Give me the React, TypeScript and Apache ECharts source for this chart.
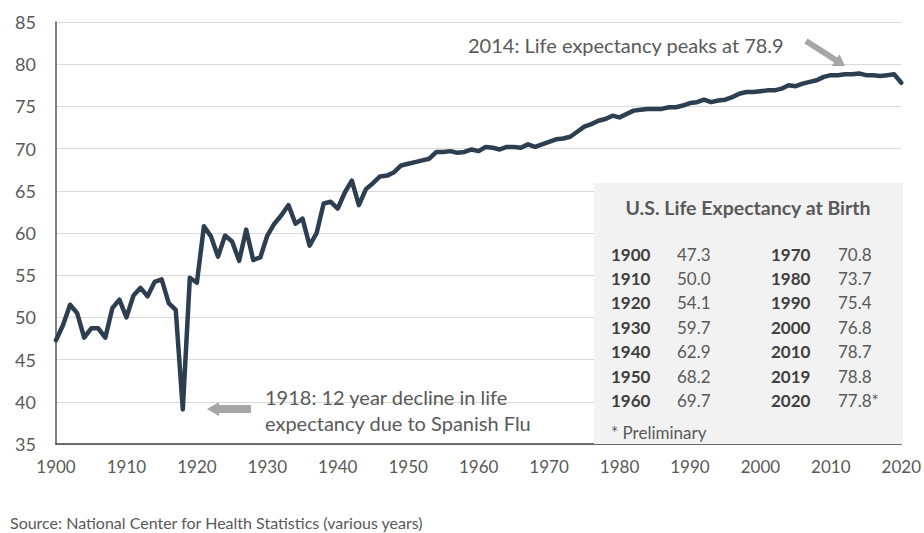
import React, { useEffect, useRef } from "react";
import * as echarts from "echarts";

const years: number[] = [];
for (let y = 1900; y <= 2020; y++) years.push(y);

const lifeExpectancy: number[] = [
  47.3, 49.1, 51.5, 50.5, 47.6, 48.7, 48.7, 47.6, 51.1, 52.1,
  50.0, 52.6, 53.5, 52.5, 54.2, 54.5, 51.7, 50.9, 39.1, 54.7,
  54.1, 60.8, 59.6, 57.2, 59.7, 59.0, 56.7, 60.4, 56.8, 57.1,
  59.7, 61.1, 62.1, 63.3, 61.1, 61.7, 58.5, 60.0, 63.5, 63.7,
  62.9, 64.8, 66.2, 63.3, 65.2, 65.9, 66.7, 66.8, 67.2, 68.0,
  68.2, 68.4, 68.6, 68.8, 69.6, 69.6, 69.7, 69.5, 69.6, 69.9,
  69.7, 70.2, 70.1, 69.9, 70.2, 70.2, 70.1, 70.5, 70.2, 70.5,
  70.8, 71.1, 71.2, 71.4, 72.0, 72.6, 72.9, 73.3, 73.5, 73.9,
  73.7, 74.1, 74.5, 74.6, 74.7, 74.7, 74.7, 74.9, 74.9, 75.1,
  75.4, 75.5, 75.8, 75.5, 75.7, 75.8, 76.1, 76.5, 76.7, 76.7,
  76.8, 76.9, 76.9, 77.1, 77.5, 77.4, 77.7, 77.9, 78.1, 78.5,
  78.7, 78.7, 78.8, 78.8, 78.9, 78.7, 78.7, 78.6, 78.7, 78.8,
  77.8,
];

const tableTitle = "U.S. Life Expectancy at Birth";
const tableYearsLeft = ["1900", "1910", "1920", "1930", "1940", "1950", "1960"];
const tableValuesLeft = ["47.3", "50.0", "54.1", "59.7", "62.9", "68.2", "69.7"];
const tableYearsRight = ["1970", "1980", "1990", "2000", "2010", "2019", "2020"];
const tableValuesRight = ["70.8", "73.7", "75.4", "76.8", "78.7", "78.8", "77.8*"];
const tableNote = "* Preliminary";

const peakNote = "2014: Life expectancy peaks at 78.9";
const fluNoteLines = ["1918: 12 year decline in life", "expectancy due to Spanish Flu"];
const sourceNote = "Source: National Center for Health Statistics (various years)";

const FONT = "Lato, 'Open Sans', sans-serif";

export default function App() {
  const ref = useRef<HTMLDivElement>(null);
  useEffect(() => {
    if (!ref.current) return;
    const chart = echarts.init(ref.current, null, { renderer: "svg" });

    const rowY0 = 254;
    const rowStep = 24.4;
    const tableTexts: any[] = [];
    tableYearsLeft.forEach((t, i) => {
      tableTexts.push({
        type: "text",
        style: { text: t, x: 611, y: rowY0 + i * rowStep, font: `bold 17px ${FONT}`, fill: "#404040", verticalAlign: "middle" },
      });
      tableTexts.push({
        type: "text",
        style: { text: tableValuesLeft[i], x: 677, y: rowY0 + i * rowStep, font: `17px ${FONT}`, fill: "#595959", verticalAlign: "middle" },
      });
      tableTexts.push({
        type: "text",
        style: { text: tableYearsRight[i], x: 771, y: rowY0 + i * rowStep, font: `bold 17px ${FONT}`, fill: "#404040", verticalAlign: "middle" },
      });
      tableTexts.push({
        type: "text",
        style: { text: tableValuesRight[i], x: 838, y: rowY0 + i * rowStep, font: `17px ${FONT}`, fill: "#595959", verticalAlign: "middle" },
      });
    });

    chart.setOption({
      animation: false,
      backgroundColor: "#ffffff",
      grid: { left: 56, right: 22, top: 22, bottom: 89, containLabel: false },
      xAxis: {
        type: "value",
        min: 1900,
        max: 2020,
        interval: 10,
        axisLine: { show: true, onZero: false, lineStyle: { color: "#404040", width: 1.5 } },
        axisTick: { show: false },
        splitLine: { show: false },
        axisLabel: { color: "#595959", fontFamily: FONT, fontSize: 17, margin: 14, formatter: (v: number) => String(v) },
      },
      yAxis: {
        type: "value",
        min: 35,
        max: 85,
        interval: 5,
        axisLine: { show: true, lineStyle: { color: "#595959", width: 1.5 } },
        axisTick: { show: false },
        splitLine: { show: true, lineStyle: { color: "#d9d9d9", width: 1.2 } },
        axisLabel: { color: "#595959", fontFamily: FONT, fontSize: 18, margin: 20 },
      },
      series: [
        {
          type: "line",
          data: years.map((y, i) => [y, lifeExpectancy[i]]),
          showSymbol: false,
          symbol: "none",
          lineStyle: { color: "#2c3e50", width: 4.5, join: "round", cap: "round" },
          z: 3,
        },
      ],
      graphic: [
        {
          type: "rect",
          shape: { x: 594, y: 183, width: 309, height: 261 },
          style: { fill: "#f2f2f2" },
          z: 10,
        },
        {
          type: "text",
          style: { text: tableTitle, x: 748, y: 207, font: `bold 19.5px ${FONT}`, fill: "#595959", align: "center", verticalAlign: "middle" },
          z: 11,
        },
        ...tableTexts.map((t) => ({ ...t, z: 11 })),
        {
          type: "text",
          style: { text: tableNote, x: 611, y: 432, font: `17px ${FONT}`, fill: "#595959", verticalAlign: "middle" },
          z: 11,
        },
        {
          type: "text",
          style: { text: peakNote, x: 468, y: 45, font: `20px ${FONT}`, fill: "#595959", verticalAlign: "middle" },
          z: 11,
        },
        {
          type: "polygon",
          shape: {
            points: [
              [804.4, 43.5], [834.1, 62.6], [831.9, 66.0], [845, 66],
              [839.5, 54.2], [837.3, 57.6], [807.6, 38.5],
            ],
          },
          style: { fill: "#a6a6a6" },
          z: 11,
        },
        {
          type: "text",
          style: { text: fluNoteLines[0], x: 265, y: 397, font: `20px ${FONT}`, fill: "#595959", verticalAlign: "middle" },
          z: 11,
        },
        {
          type: "text",
          style: { text: fluNoteLines[1], x: 265, y: 423, font: `20px ${FONT}`, fill: "#595959", verticalAlign: "middle" },
          z: 11,
        },
        {
          type: "polygon",
          shape: {
            points: [
              [207, 409], [219, 402], [219, 405], [251, 405],
              [251, 413], [219, 413], [219, 416],
            ],
          },
          style: { fill: "#a6a6a6" },
          z: 11,
        },
        {
          type: "text",
          style: { text: sourceNote, x: 10, y: 522, font: `16px ${FONT}`, fill: "#595959", verticalAlign: "middle" },
          z: 11,
        },
      ],
    });
    return () => chart.dispose();
  }, []);
  return <div ref={ref} style={{ width: 924, height: 533, position: "absolute", left: 0, top: 0 }} />;
}
